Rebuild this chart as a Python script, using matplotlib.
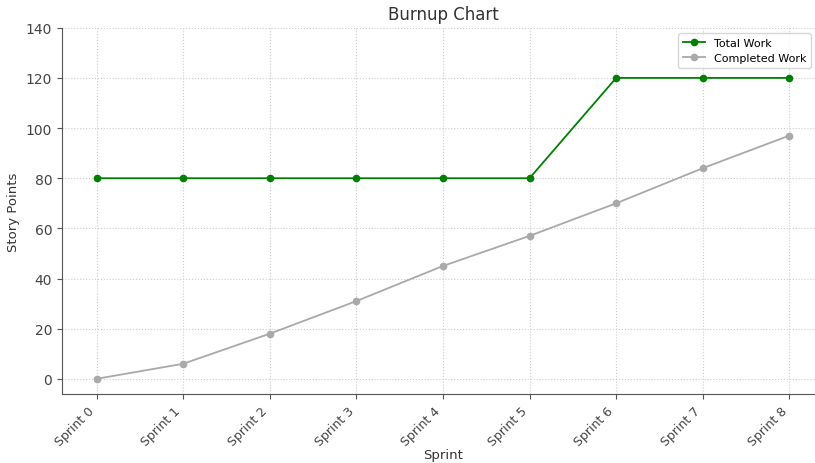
import matplotlib
matplotlib.use("Agg")
import matplotlib.pyplot as plt

sprints = [f"Sprint {i}" for i in range(9)]
total_work = [80, 80, 80, 80, 80, 80, 120, 120, 120]
completed_work = [0, 6, 18, 31, 45, 57, 70, 84, 97]

fig = plt.figure(figsize=(8.15, 4.64), dpi=100)
ax = fig.add_axes([0.076, 0.149, 0.935, 0.789])
x = list(range(len(sprints)))
ax.plot(x, total_work, marker='o', color='green', markersize=4.5, linewidth=1.3, label='Total Work')
ax.plot(x, completed_work, marker='o', color='darkgray', markersize=4.5, linewidth=1.3, label='Completed Work')
ax.set_xticks(x)
ax.set_xticklabels(sprints, rotation=45, ha='right', fontsize=9, color='#444444')
ax.set_yticks(range(0, 141, 20))
ax.tick_params(axis='y', labelsize=10, labelcolor='#444444')
ax.tick_params(axis='both', color='#555555')
ax.set_xlim(-0.4, 8.4)
ax.set_ylim(-6, 140)
ax.grid(True, linestyle=':', color='#cccccc', linewidth=0.8)
ax.set_title("Burnup Chart", fontsize=12, color='#333333')
ax.set_xlabel("Sprint", fontsize=9.5, color='#333333', labelpad=0)
ax.set_ylabel("Story Points", fontsize=9.5, color='#333333')
for s in ['top', 'right']:
    ax.spines[s].set_visible(False)
for s in ['left', 'bottom']:
    ax.spines[s].set_color('#555555')
ax.legend(loc='upper right', fontsize=8, bbox_to_anchor=(0.99, 1.0))
fig.savefig("out.png", dpi=100)
